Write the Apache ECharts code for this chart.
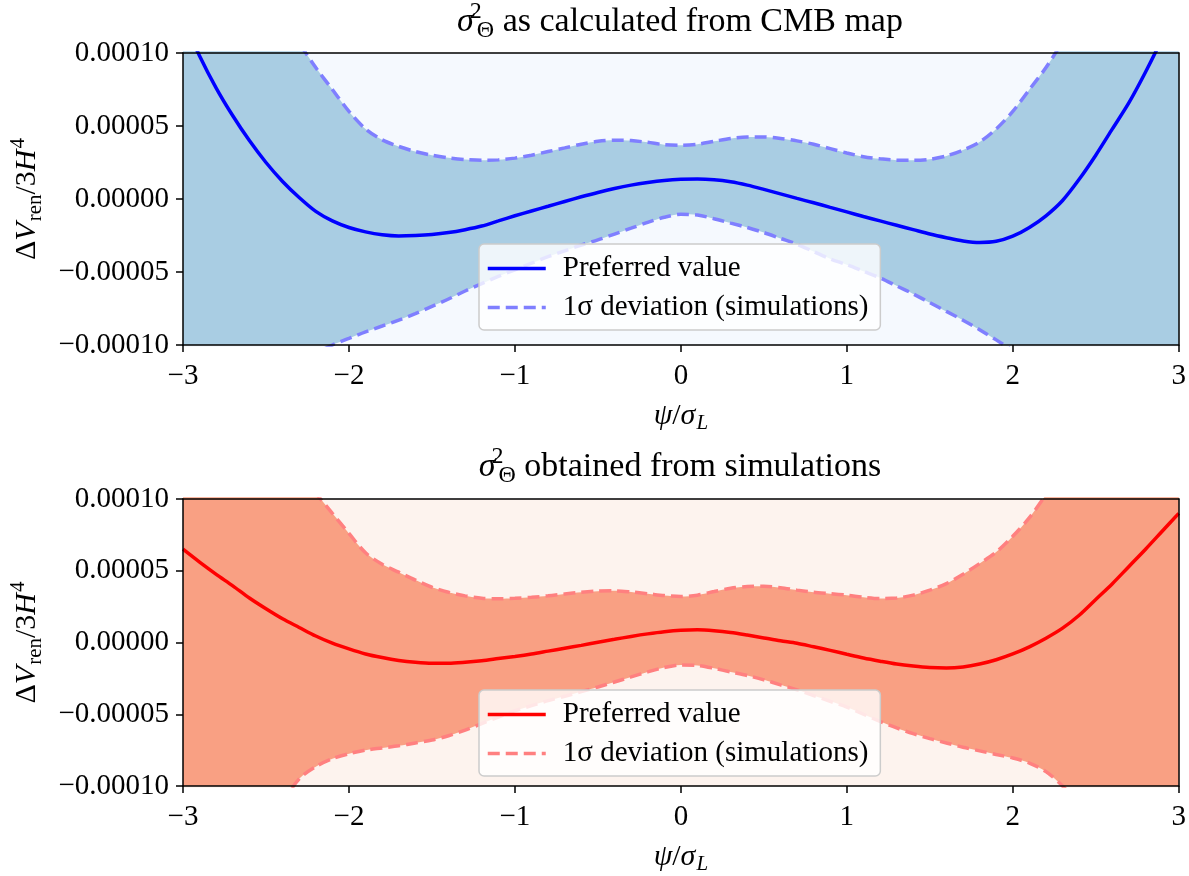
<!DOCTYPE html>
<html>
<head>
<meta charset="utf-8">
<script src="https://cdn.jsdelivr.net/npm/echarts@6/dist/echarts.min.js"></script>
<style>
  html, body { margin: 0; padding: 0; background: #ffffff; }
  #chart { width: 1189px; height: 876px; }
</style>
</head>
<body>
<div id="chart"></div>
<script>
// psi / sigma_L sample positions, -3.0 ... 3.0 in steps of 0.1
const psi = [
  -3.0, -2.9, -2.8, -2.7, -2.6, -2.5, -2.4, -2.3, -2.2, -2.1,
  -2.0, -1.9, -1.8, -1.7, -1.6, -1.5, -1.4, -1.3, -1.2, -1.1,
  -1.0, -0.9, -0.8, -0.7, -0.6, -0.5, -0.4, -0.3, -0.2, -0.1,
   0.0,  0.1,  0.2,  0.3,  0.4,  0.5,  0.6,  0.7,  0.8,  0.9,
   1.0,  1.1,  1.2,  1.3,  1.4,  1.5,  1.6,  1.7,  1.8,  1.9,
   2.0,  2.1,  2.2,  2.3,  2.4,  2.5,  2.6,  2.7,  2.8,  2.9,
   3.0];

// Delta V_ren / 3H^4, in units of 1e-5

// sigma^2 as calculated from the CMB map
const cmbPreferred = [
  12.3, 9.8, 7.6, 5.7, 4.0, 2.5, 1.2, 0.1, -0.85, -1.5,
  -1.95, -2.25, -2.45, -2.53, -2.5, -2.43, -2.3, -2.1, -1.85, -1.5,
  -1.15, -0.82, -0.5, -0.17, 0.15, 0.45, 0.72, 0.95, 1.13, 1.27,
  1.35, 1.37, 1.32, 1.18, 0.95, 0.66, 0.35, 0.04, -0.26, -0.57,
  -0.88, -1.2, -1.5, -1.8, -2.1, -2.4, -2.65, -2.87, -2.98, -2.9,
  -2.55, -1.95, -1.15, -0.1, 1.35, 3.0, 4.8, 6.6, 8.7, 11.0,
  13.5];
const cmbUpper = [
  35, 30, 25.5, 21.5, 18, 15, 12.6, 10.7, 9.0, 7.5,
  6.0, 4.8, 4.05, 3.6, 3.25, 3.0, 2.82, 2.7, 2.65, 2.68,
  2.8, 3.0, 3.25, 3.5, 3.75, 3.95, 4.03, 4.0, 3.88, 3.72,
  3.68, 3.75, 3.95, 4.15, 4.25, 4.25, 4.15, 3.98, 3.75, 3.45,
  3.15, 2.9, 2.75, 2.66, 2.65, 2.72, 2.95, 3.35, 3.9, 4.8,
  6.0, 7.5, 9.0, 10.8, 12.8, 15.2, 18, 21.5, 25.5, 30,
  35];
const cmbLower = [
  -35, -30, -25.5, -21.5, -18, -15.2, -13, -11.4, -10.6, -10.0,
  -9.55, -9.1, -8.7, -8.3, -7.85, -7.35, -6.85, -6.3, -5.8, -5.3,
  -4.85, -4.4, -3.95, -3.55, -3.15, -2.8, -2.4, -2.0, -1.6, -1.25,
  -1.05, -1.1, -1.35, -1.65, -1.95, -2.3, -2.7, -3.1, -3.6, -4.1,
  -4.5, -4.95, -5.4, -5.95, -6.5, -7.1, -7.7, -8.3, -8.95, -9.65,
  -10.4, -11.2, -12.2, -13.4, -15, -17, -19.5, -22.5, -26, -30,
  -35];

// sigma^2 obtained from simulations
const simPreferred = [
  6.5, 5.6, 4.75, 3.95, 3.1, 2.35, 1.65, 1.05, 0.45, -0.05,
  -0.45, -0.8, -1.05, -1.25, -1.38, -1.45, -1.45, -1.38, -1.27, -1.12,
  -0.97, -0.8, -0.6, -0.4, -0.2, 0.02, 0.22, 0.42, 0.6, 0.75,
  0.85, 0.88, 0.82, 0.7, 0.52, 0.32, 0.12, -0.05, -0.3, -0.55,
  -0.82, -1.08, -1.3, -1.5, -1.64, -1.74, -1.77, -1.7, -1.5, -1.2,
  -0.8, -0.3, 0.3, 1.0, 1.9, 3.0, 4.1, 5.3, 6.5, 7.75,
  9.0];
const simUpper = [
  35, 30.5, 26.5, 22.5, 19, 16, 13.6, 11.7, 10.4, 9.0,
  7.6, 6.25, 5.45, 4.9, 4.35, 3.85, 3.5, 3.25, 3.08, 3.05,
  3.08, 3.15, 3.25, 3.38, 3.5, 3.58, 3.6, 3.52, 3.4, 3.27,
  3.2, 3.3, 3.55, 3.78, 3.9, 3.92, 3.82, 3.65, 3.5, 3.4,
  3.3, 3.15, 3.06, 3.1, 3.3, 3.65, 4.1, 4.75, 5.5, 6.3,
  7.4, 8.7, 10.3, 12.0, 14, 16.3, 19, 22.3, 26, 30,
  34.5];
const simLower = [
  -30, -26, -22.5, -19, -16, -13.5, -11.2, -9.5, -8.65, -8.1,
  -7.75, -7.5, -7.35, -7.2, -7.0, -6.8, -6.5, -6.1, -5.65, -5.2,
  -4.75, -4.4, -4.05, -3.75, -3.42, -3.1, -2.75, -2.4, -2.05, -1.75,
  -1.56, -1.6, -1.8, -2.05, -2.3, -2.6, -2.95, -3.3, -3.7, -4.1,
  -4.5, -5.0, -5.5, -5.95, -6.35, -6.7, -7.0, -7.3, -7.55, -7.8,
  -8.05, -8.4, -9.0, -10.0, -11.4, -13.2, -15.5, -18.2, -21.5, -25,
  -29];

// axis ranges (y in units of 1e-5)
const xRange = { min: -3, max: 3, step: 1 };
const yRange = { min: -10, max: 10, step: 5 };

const legendLabels = {
  cmbPref: 'Preferred value', cmbUpper: '1σ deviation (simulations)',
  simPref: 'Preferred value', simUpper: '1σ deviation (simulations)'
};

const SERIF = '"Liberation Serif", "DejaVu Serif", serif';
const TICK_FS = 29;
const LABEL_FS = 30;
const LEGEND_FS = 29;
const TITLE_FS = 34;

const pair = (xs, ys) => xs.map((x, i) => [x, ys[i]]);
const minus = s => String(s).replace('-', '\u2212');

const panels = [
  { key: 'cmb', top: 53, height: 292, band: '#a9cde3', bg: '#f5f9fe', line: '#0000ff', dash: '#7f7fff',
    pref: cmbPreferred, up: cmbUpper, lo: cmbLower, legendTop: 244,
    title: ' as calculated from CMB map', titleY: 22 },
  { key: 'sim', top: 499, height: 294, band: '#f9a083', bg: '#fdf3ee', line: '#ff0000', dash: '#ff8080',
    pref: simPreferred, up: simUpper, lo: simLower, legendTop: 690,
    title: ' obtained from simulations', titleY: 467 }
];

const mathRich = (fs) => ({
  r: { fontFamily: SERIF, fontSize: fs, color: '#000' },
  i: { fontFamily: SERIF, fontSize: fs, fontStyle: 'italic', color: '#000' },
  sub: { fontFamily: SERIF, fontSize: Math.round(fs * 0.7), color: '#000', padding: [Math.round(fs * 0.5), 0, 0, 1] },
  subi: { fontFamily: SERIF, fontSize: Math.round(fs * 0.7), fontStyle: 'italic', color: '#000', padding: [Math.round(fs * 0.5), 0, 0, 1] },
  sup: { fontFamily: SERIF, fontSize: Math.round(fs * 0.7), color: '#000', padding: [0, 0, Math.round(fs * 0.6), 1] },
  supz: { fontFamily: SERIF, fontSize: Math.round(fs * 0.7), color: '#000', width: 0, padding: [0, 0, Math.round(fs * 0.6), 2] }
});

const frame = { color: '#000', width: 1.5 };

const grid = [], xAxis = [], yAxis = [], series = [], legend = [], graphic = [];

panels.forEach((p, gi) => {
  grid.push({ left: 180, width: 1000, top: p.top, height: p.height, show: true,
              backgroundColor: p.bg, borderWidth: 0 });

  // bottom axis with ticks and labels
  xAxis.push({
    gridIndex: gi, type: 'value', position: 'bottom', min: xRange.min, max: xRange.max, interval: xRange.step, z: 10,
    axisLine: { show: true, onZero: false, lineStyle: frame },
    axisTick: { show: true, length: 7, lineStyle: frame },
    axisLabel: { margin: 17, fontFamily: SERIF, fontSize: TICK_FS, color: '#000', formatter: v => minus(v) },
    splitLine: { show: false },
    name: '{i|ψ}{r|/}{i|σ}{subi|L}', nameLocation: 'middle', nameGap: 53,
    nameTextStyle: { rich: mathRich(LABEL_FS) }
  });
  // top spine
  xAxis.push({
    gridIndex: gi, type: 'value', position: 'top', min: xRange.min, max: xRange.max, z: 10,
    axisLine: { show: true, onZero: false, lineStyle: frame },
    axisTick: { show: false }, axisLabel: { show: false }, splitLine: { show: false }
  });
  // left axis with ticks and labels
  yAxis.push({
    gridIndex: gi, type: 'value', position: 'left', min: yRange.min, max: yRange.max, interval: yRange.step, z: 10,
    axisLine: { show: true, onZero: false, lineStyle: frame },
    axisTick: { show: true, length: 7, lineStyle: frame },
    axisLabel: { margin: 14, fontFamily: SERIF, fontSize: TICK_FS, color: '#000',
                 formatter: v => (v < 0 ? '\u2212' : '') + (Math.abs(v) * 1e-5).toFixed(5) },
    splitLine: { show: false },
    name: '{r|Δ}{i|V}{sub|ren}{r|/3}{i|H}{sup|4}', nameLocation: 'middle', nameGap: 136, nameRotate: 90,
    nameTextStyle: { rich: mathRich(LABEL_FS) }
  });
  // right spine
  yAxis.push({
    gridIndex: gi, type: 'value', position: 'right', min: yRange.min, max: yRange.max, z: 10,
    axisLine: { show: true, onZero: false, lineStyle: frame },
    axisTick: { show: false }, axisLabel: { show: false }, splitLine: { show: false }
  });

  const xi = gi * 2, yi = gi * 2;
  const common = { type: 'line', xAxisIndex: xi, yAxisIndex: yi, smooth: 0.3, symbol: 'none',
                   clip: true, animation: false };
  const dashStyle = { color: p.dash, width: 3.5, type: [12, 6] };
  // band: fill under the upper curve with the band colour, then restore background under the lower curve
  series.push(Object.assign({}, common, {
    name: p.key + 'Upper', data: pair(psi, p.up), z: 2,
    lineStyle: dashStyle, itemStyle: { color: p.dash },
    areaStyle: { color: p.band, opacity: 1, origin: 'start' }
  }));
  series.push(Object.assign({}, common, {
    name: p.key + 'Lower', data: pair(psi, p.lo), z: 3,
    lineStyle: dashStyle, itemStyle: { color: p.dash },
    areaStyle: { color: p.bg, opacity: 1, origin: 'start' }
  }));
  series.push(Object.assign({}, common, {
    name: p.key + 'Pref', data: pair(psi, p.pref), z: 4,
    lineStyle: { color: p.line, width: 3.5 }, itemStyle: { color: p.line }
  }));

  legend.push({
    left: 479, top: p.legendTop, orient: 'vertical', z: 20,
    data: [p.key + 'Pref', p.key + 'Upper'], formatter: n => legendLabels[n],
    selectedMode: false, itemWidth: 58, itemHeight: 14, itemGap: 10,
    itemStyle: { color: 'rgba(0,0,0,0)', borderWidth: 0, opacity: 0 },
    lineStyle: { width: 3.5 },
    backgroundColor: 'rgba(255,255,255,0.8)', borderColor: '#cccccc', borderWidth: 1.5, borderRadius: 5,
    padding: [10, 12, 8, 7],
    textStyle: { fontFamily: SERIF, fontSize: LEGEND_FS, color: '#000', padding: [0, 0, 0, 12] }
  });

  graphic.push({
    type: 'text', x: 680, y: p.titleY, z: 20,
    style: {
      text: '{i|σ}{supz|2}{sub|Θ}{r|' + p.title + '}',
      align: 'center', verticalAlign: 'middle',
      rich: mathRich(TITLE_FS)
    }
  });
});

const chart = echarts.init(document.getElementById('chart'), null, { renderer: 'canvas' });
chart.setOption({
  animation: false,
  backgroundColor: '#ffffff',
  grid, xAxis, yAxis, series, legend, graphic
});
</script>
</body>
</html>
